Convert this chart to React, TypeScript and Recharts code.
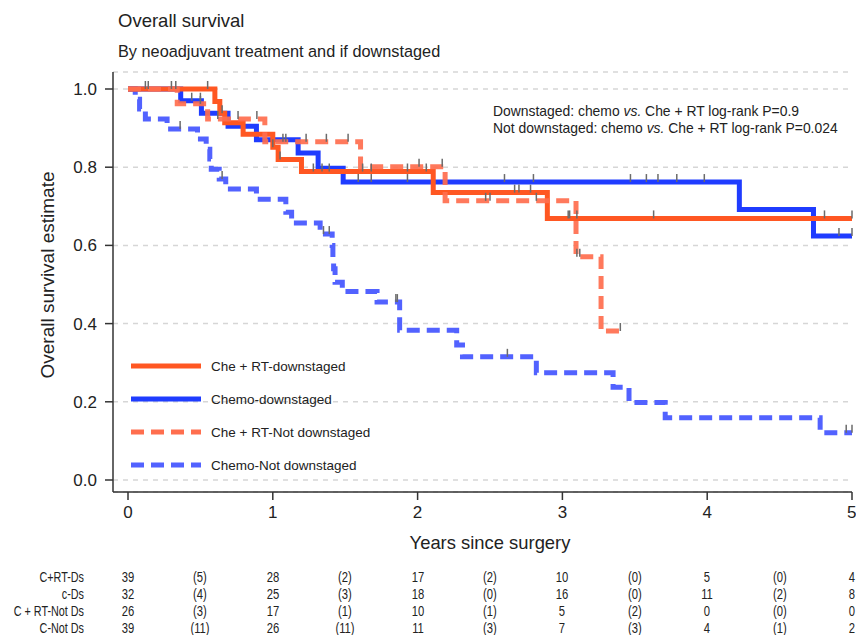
import React from "react";
import { ComposedChart, Line, Scatter, XAxis, YAxis, CartesianGrid } from "recharts";

// ─── Kaplan-Meier step data (years since surgery, survival estimate) ────────

const T_CRT_DS = [0, 0.6, 0.634, 0.668, 0.795, 1.0, 1.037, 1.198, 2.108, 2.896, 5.0];
const S_CRT_DS = [1, 0.968, 0.938, 0.914, 0.884, 0.851, 0.82, 0.789, 0.735, 0.669, 0.669];

const T_C_DS = [0, 0.364, 0.507, 0.691, 0.887, 1.175, 1.313, 1.486, 4.222, 4.734, 5.0];
const S_C_DS = [1, 0.97, 0.938, 0.905, 0.87, 0.836, 0.797, 0.762, 0.692, 0.624, 0.624];

const T_CRT_NDS = [0, 0.34, 0.55, 0.945, 1.606, 2.19, 3.094, 3.267, 3.4];
const S_CRT_NDS = [1, 0.962, 0.923, 0.865, 0.801, 0.714, 0.571, 0.381, 0.381];

const T_C_NDS = [
    0, 0.05, 0.08, 0.12, 0.27, 0.48, 0.54, 0.565, 0.575, 0.63, 0.675, 0.887, 1.09, 1.13, 1.327,
    1.41, 1.415, 1.42, 1.43, 1.48, 1.72, 1.876, 2.27, 2.31, 2.82, 3.35, 3.46, 3.71, 4.78, 5.0,
];
const S_C_NDS = [
    1, 0.974, 0.949, 0.923, 0.898, 0.872, 0.846, 0.821, 0.795, 0.77, 0.744, 0.718, 0.685, 0.657, 0.629,
    0.6, 0.57, 0.54, 0.506, 0.482, 0.455, 0.383, 0.345, 0.315, 0.274, 0.237, 0.198, 0.159, 0.121, 0.121,
];

// censoring times
const CENS_CRT_DS = [0.12, 0.33, 0.55, 0.65, 1.0, 1.05, 1.28, 1.34, 1.39, 1.62, 1.68, 1.93, 2.06, 2.67, 2.7, 2.78, 3.04, 3.05, 3.1, 3.63, 4.81, 5.0];
const CENS_C_DS = [0.14, 0.44, 0.5, 1.59, 1.68, 1.93, 2.6, 2.8, 3.47, 3.58, 3.66, 3.79, 3.98, 4.91, 5.0];
const CENS_CRT_NDS = [0.3, 0.5, 0.62, 0.76, 0.89, 1.07, 1.09, 1.23, 1.37, 1.52, 2.01, 2.17, 2.47, 2.5, 2.82, 3.1, 3.12, 3.4];
const CENS_C_NDS = [0.36, 0.65, 1.35, 1.39, 1.85, 1.86, 2.62, 4.96, 5.0];

// number at risk table
const RISK_LABELS = ["C+RT-Ds", "c-Ds", "C + RT-Not Ds", "C-Not Ds"];
const RISK_TIMES = [0, 0.5, 1, 1.5, 2, 2.5, 3, 3.5, 4, 4.5, 5];
const RISK_CRT_DS = ["39", "(5)", "28", "(2)", "17", "(2)", "10", "(0)", "5", "(0)", "4"];
const RISK_C_DS = ["32", "(4)", "25", "(3)", "18", "(0)", "16", "(0)", "11", "(2)", "8"];
const RISK_CRT_NDS = ["26", "(3)", "17", "(1)", "10", "(1)", "5", "(2)", "0", "(0)", "0"];
const RISK_C_NDS = ["39", "(11)", "26", "(11)", "11", "(3)", "7", "(3)", "4", "(1)", "2"];

const X_TICKS = [0, 1, 2, 3, 4, 5];
const Y_TICKS = [0, 0.2, 0.4, 0.6, 0.8, 1.0];

// ─── helpers ────────────────────────────────────────────────────────────────

const ORANGE = "#ff5722";
const BLUE = "#1f3cff";
const ORANGE_D = "#ff6e4e";
const BLUE_D = "#5262ff";
const FONT = "'Liberation Sans', Arial, Helvetica, sans-serif";

const toSeries = (t: number[], s: number[]) => t.map((x, i) => ({ t: x, s: s[i] }));

function survAt(t: number[], s: number[], x: number) {
    let v = s[0];
    for (let i = 0; i < t.length; i++) if (t[i] <= x) v = s[i];
    return v;
}

const toCens = (c: number[], t: number[], s: number[]) => c.map((x) => ({ t: x, s: survAt(t, s, x) }));

const CensorTick = (props: any) => {
    const { cx, cy } = props;
    if (cx == null || cy == null) return null;
    return <line x1={cx} x2={cx} y1={cy - 8} y2={cy} stroke="#6b6b6b" strokeWidth={1.5} />;
};

// pixel mapping used only for placing the risk table text under the axis
const X0 = 128;
const PX_PER_YEAR = 144.8;

const LEGEND = [
    { label: "Che + RT-downstaged", color: ORANGE, dash: undefined, y: 366 },
    { label: "Chemo-downstaged", color: BLUE, dash: undefined, y: 399 },
    { label: "Che + RT-Not downstaged", color: ORANGE_D, dash: "13 7", y: 432 },
    { label: "Chemo-Not downstaged", color: BLUE_D, dash: "13 7", y: 465 },
];

const narrow: React.CSSProperties = {
    position: "absolute",
    fontSize: 15,
    lineHeight: "16px",
    whiteSpace: "nowrap",
};

export default function App() {
    const riskRows = [RISK_CRT_DS, RISK_C_DS, RISK_CRT_NDS, RISK_C_NDS];
    const rowY = [577, 594, 611, 628];

    return (
        <div style={{ position: "absolute", left: 0, top: 0, width: 856, height: 635, background: "#fff", fontFamily: FONT, color: "#222" }}>
            <ComposedChart width={856} height={635} margin={{ top: 72, right: 4, bottom: 113, left: 0 }}>
                <CartesianGrid horizontal vertical={false} stroke="#d6d6d6" strokeWidth={1.5} strokeDasharray="5 5" />
                <XAxis
                    type="number"
                    dataKey="t"
                    domain={[0, 5]}
                    ticks={X_TICKS}
                    padding={{ left: 15, right: 0 }}
                    height={30}
                    tickSize={8}
                    tickMargin={6}
                    stroke="#333"
                    strokeWidth={1.5}
                    tick={{ fontSize: 17, fill: "#222", fontFamily: FONT }}
                    allowDuplicatedCategory={false}
                />
                <YAxis
                    type="number"
                    dataKey="s"
                    domain={[0, 1]}
                    ticks={Y_TICKS}
                    padding={{ top: 17, bottom: 12 }}
                    width={113}
                    tickSize={8}
                    tickMargin={8}
                    stroke="#333"
                    strokeWidth={1.5}
                    tickFormatter={(v: number) => v.toFixed(1)}
                    tick={{ fontSize: 17, fill: "#222", fontFamily: FONT }}
                />
                <Line data={toSeries(T_C_NDS, S_C_NDS)} dataKey="s" type="stepAfter" stroke={BLUE_D} strokeWidth={5} strokeDasharray="13 7" dot={false} isAnimationActive={false} />
                <Line data={toSeries(T_C_DS, S_C_DS)} dataKey="s" type="stepAfter" stroke={BLUE} strokeWidth={5} dot={false} isAnimationActive={false} />
                <Line data={toSeries(T_CRT_DS, S_CRT_DS)} dataKey="s" type="stepAfter" stroke={ORANGE} strokeWidth={5} dot={false} isAnimationActive={false} />
                <Line data={toSeries(T_CRT_NDS, S_CRT_NDS)} dataKey="s" type="stepAfter" stroke={ORANGE_D} strokeOpacity={0.92} strokeWidth={5} strokeDasharray="13 7" dot={false} isAnimationActive={false} />
                <Scatter data={toCens(CENS_C_NDS, T_C_NDS, S_C_NDS)} dataKey="s" shape={CensorTick} isAnimationActive={false} />
                <Scatter data={toCens(CENS_C_DS, T_C_DS, S_C_DS)} dataKey="s" shape={CensorTick} isAnimationActive={false} />
                <Scatter data={toCens(CENS_CRT_DS, T_CRT_DS, S_CRT_DS)} dataKey="s" shape={CensorTick} isAnimationActive={false} />
                <Scatter data={toCens(CENS_CRT_NDS, T_CRT_NDS, S_CRT_NDS)} dataKey="s" shape={CensorTick} isAnimationActive={false} />
            </ComposedChart>

            {/* titles */}
            <div style={{ position: "absolute", left: 118, top: 10, fontSize: 18.5, whiteSpace: "nowrap" }}>Overall survival</div>
            <div style={{ position: "absolute", left: 118, top: 42, fontSize: 16.3, whiteSpace: "nowrap" }}>By neoadjuvant treatment and if downstaged</div>

            {/* log-rank annotation */}
            <div style={{ position: "absolute", left: 493, top: 103, fontSize: 13.9, lineHeight: "17px", whiteSpace: "nowrap" }}>
                <div>Downstaged: chemo <i>vs.</i> Che + RT log-rank P=0.9</div>
                <div>Not downstaged: chemo <i>vs.</i> Che + RT log-rank P=0.024</div>
            </div>

            {/* axis titles */}
            <div style={{ position: "absolute", left: 490, top: 543, transform: "translate(-50%, -50%)", fontSize: 18.4, whiteSpace: "nowrap" }}>Years since surgery</div>
            <div style={{ position: "absolute", left: 48, top: 275, transform: "translate(-50%, -50%) rotate(-90deg)", fontSize: 19, whiteSpace: "nowrap" }}>Overall survival estimate</div>

            {/* legend */}
            {LEGEND.map((l) => (
                <div key={l.label} style={{ position: "absolute", left: 131, top: l.y - 10, height: 20, display: "flex", alignItems: "center" }}>
                    <svg width={72} height={20}>
                        <line x1={0} x2={70} y1={10} y2={10} stroke={l.color} strokeWidth={5} strokeDasharray={l.dash} />
                    </svg>
                    <span style={{ marginLeft: 8, fontSize: 13.5, whiteSpace: "nowrap" }}>{l.label}</span>
                </div>
            ))}

            {/* number at risk */}
            {riskRows.map((row, r) => (
                <React.Fragment key={RISK_LABELS[r]}>
                    <div style={{ ...narrow, left: 84, top: rowY[r] - 8, transform: "translateX(-100%) scaleX(0.72)", transformOrigin: "right center" }}>
                        {RISK_LABELS[r]}
                    </div>
                    {row.map((v, i) => (
                        <div
                            key={i}
                            style={{
                                ...narrow,
                                left: X0 + RISK_TIMES[i] * PX_PER_YEAR,
                                top: rowY[r] - 8,
                                transform: "translateX(-50%) scaleX(0.75)",
                            }}
                        >
                            {v}
                        </div>
                    ))}
                </React.Fragment>
            ))}
        </div>
    );
}
